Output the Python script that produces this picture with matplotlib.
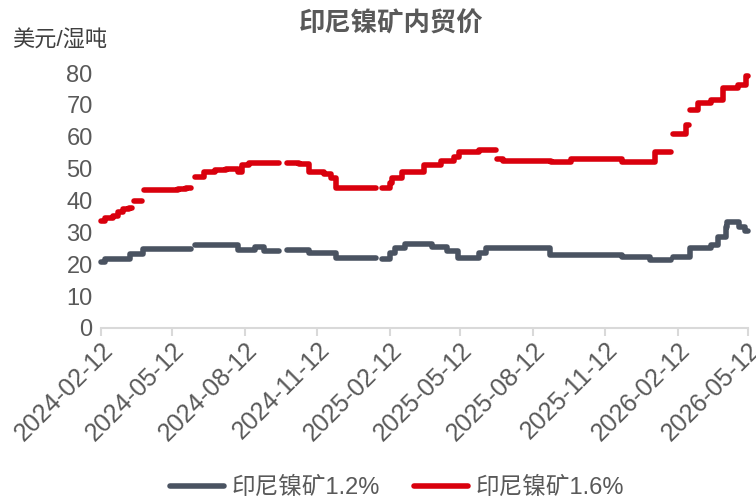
import matplotlib
matplotlib.use("Agg")
import matplotlib.pyplot as plt
import matplotlib.dates as mdates
import numpy as np
import pandas as pd

plt.rcParams['font.family'] = ['Liberation Sans', 'Noto Sans CJK SC', 'DejaVu Sans']

# price steps (date where a new level starts, level); nan = no data
red_dates = ['2024-02-12', '2024-02-17', '2024-02-27', '2024-03-04', '2024-03-11', '2024-03-18',
             '2024-03-22', '2024-03-25', '2024-04-04', '2024-04-07', '2024-05-20', '2024-05-30',
             '2024-06-05', '2024-06-10', '2024-06-22', '2024-07-05', '2024-07-20', '2024-08-04',
             '2024-08-09', '2024-08-18', '2024-09-25', '2024-10-05', '2024-10-20', '2024-11-02',
             '2024-11-20', '2024-11-30', '2024-12-06', '2025-01-26', '2025-02-02', '2025-02-12',
             '2025-02-15', '2025-02-28', '2025-03-27', '2025-04-18', '2025-05-04', '2025-05-11',
             '2025-06-05', '2025-06-26', '2025-06-28', '2025-07-06', '2025-09-04', '2025-09-30',
             '2025-12-03', '2026-01-14', '2026-02-04', '2026-02-06', '2026-02-23', '2026-02-26',
             '2026-02-28', '2026-03-10', '2026-03-26', '2026-04-10', '2026-04-29', '2026-05-10',
             '2026-05-12']
red_vals = [33.5, 34.5, 35.0, 36.3, 37.3, 37.6,
            np.nan, 39.8, np.nan, 43.3, 43.5, 43.9,
            np.nan, 47.5, 48.8, 49.5, 50.0, 48.8,
            51.0, 51.7, np.nan, 51.7, 51.3, 49.0,
            48.3, 47.0, 43.9, np.nan, 44.0, 45.5,
            47.0, 49.0, 51.0, 52.5, 53.7, 55.3,
            55.8, np.nan, 53.0, 52.3, 52.0, 53.0,
            52.2, 55.3, np.nan, 61.0, 63.7, np.nan,
            68.4, 70.5, 71.5, 75.2, 76.2, 79.0,
            79.0]

grey_dates = ['2024-02-12', '2024-02-17', '2024-03-20', '2024-04-05', '2024-06-05', '2024-06-10',
              '2024-08-04', '2024-08-25', '2024-09-06', '2024-09-25', '2024-10-05', '2024-11-02',
              '2024-12-06', '2025-01-26', '2025-02-02', '2025-02-12', '2025-02-18', '2025-03-03',
              '2025-04-06', '2025-04-25', '2025-05-09', '2025-06-05', '2025-06-14', '2025-09-03',
              '2025-12-03', '2026-01-08', '2026-02-04', '2026-02-06', '2026-02-28', '2026-03-26',
              '2026-04-04', '2026-04-14', '2026-04-16', '2026-05-01', '2026-05-08', '2026-05-12']
grey_vals = [20.8, 21.5, 23.2, 24.7, np.nan, 26.0,
             24.5, 25.5, 24.2, np.nan, 24.5, 23.6,
             22.0, np.nan, 21.5, 23.5, 25.0, 26.5,
             25.5, 24.0, 21.9, 23.6, 25.0, 22.9,
             22.4, 21.3, np.nan, 22.4, 25.0, 26.0,
             28.6, 31.8, 33.3, 31.8, 30.5, 30.5]

tick_dates = ['2024-02-12', '2024-05-12', '2024-08-12', '2024-11-12', '2025-02-12',
              '2025-05-12', '2025-08-12', '2025-11-12', '2026-02-12', '2026-05-12']

labels = ['印尼镍矿1.2%', '印尼镍矿1.6%']
colors = ['#4a5361', '#d9000d']

fig = plt.figure(figsize=(7.56, 4.99), dpi=100)
ax = fig.add_axes([0.1336, 0.3427, 0.8558, 0.511])

ax.plot(pd.to_datetime(grey_dates), grey_vals, drawstyle='steps-post', color=colors[0],
        lw=4, solid_capstyle='round', label=labels[0], clip_on=False)
ax.plot(pd.to_datetime(red_dates), red_vals, drawstyle='steps-post', color=colors[1],
        lw=4, solid_capstyle='round', label=labels[1], clip_on=False)

ticks = pd.to_datetime(tick_dates)
ax.set_xlim(ticks[0], ticks[-1])
ax.set_ylim(0, 80)
ax.set_xticks(ticks)
ax.xaxis.set_major_formatter(mdates.DateFormatter('%Y-%m-%d'))
ax.set_yticks(range(0, 81, 10))

for s in ['top', 'right', 'left']:
    ax.spines[s].set_visible(False)
ax.spines['bottom'].set_color('#d9d9d9')
ax.spines['bottom'].set_linewidth(1.5)
ax.tick_params(axis='x', colors='#d9d9d9', length=6, width=1.5, labelcolor='#595959',
               labelsize=18, pad=1)
ax.tick_params(axis='y', length=0, labelcolor='#595959', labelsize=17, pad=6)
plt.setp(ax.get_xticklabels(), rotation=45, ha='right', rotation_mode='anchor')

fig.text(0.518, 0.953, '印尼镍矿内贸价', ha='center', va='center', fontsize=19,
         fontweight='bold', color='#595959')
fig.text(0.016, 0.918, '美元/湿吨', ha='left', va='center', fontsize=16, color='#404040')

fig.legend(loc='center', bbox_to_anchor=(0.525, 0.022), ncol=2, frameon=False, fontsize=17,
           handlelength=2.3, handletextpad=0.3, columnspacing=1.45,
           labelcolor='#595959')

fig.savefig('out.png', dpi=100)
